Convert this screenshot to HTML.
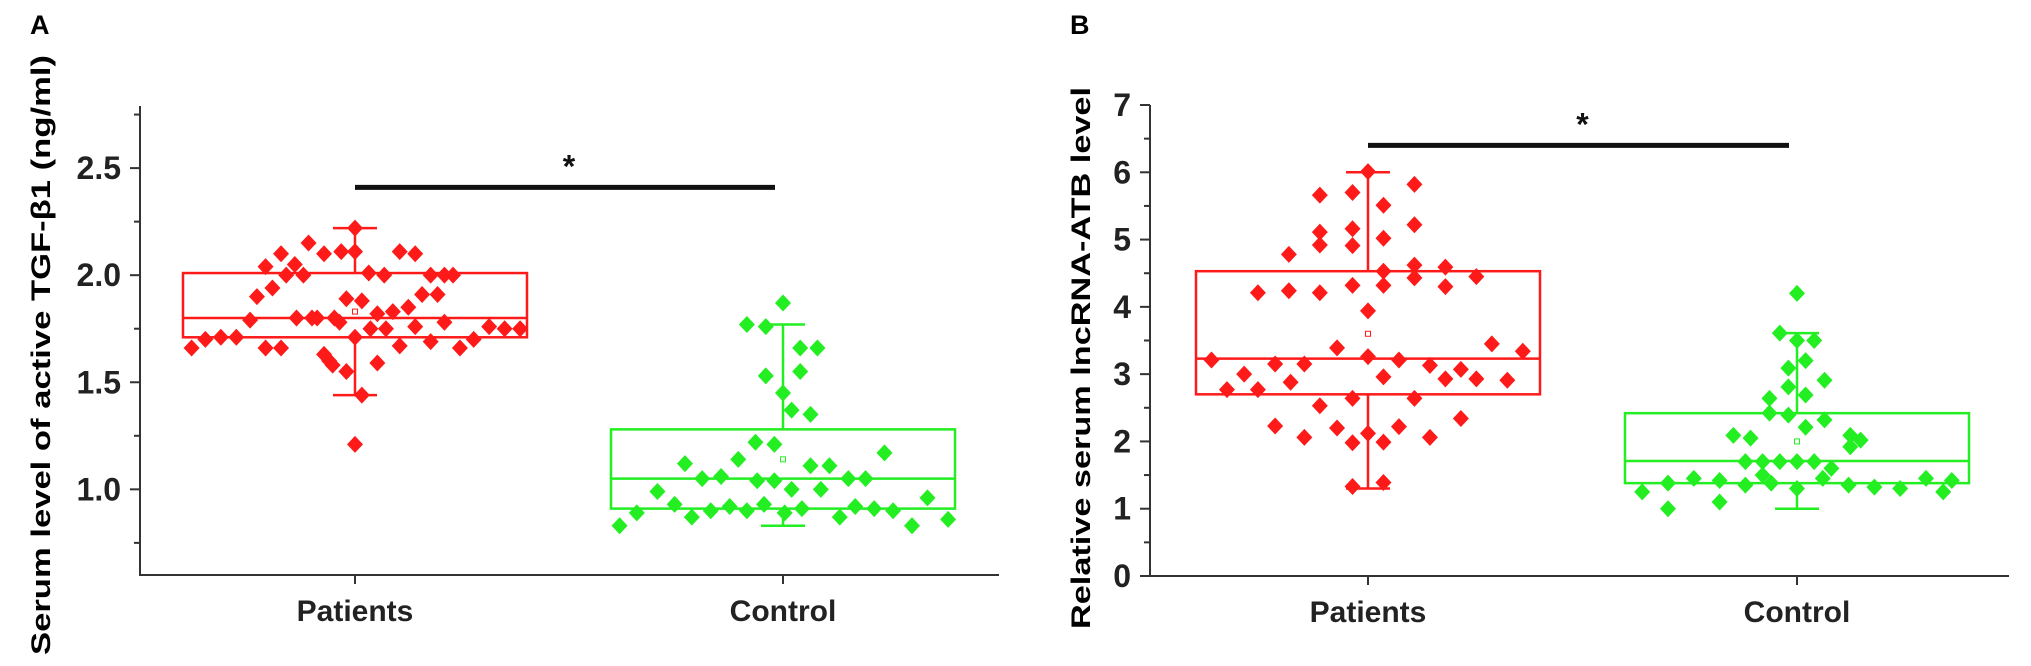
<!DOCTYPE html>
<html><head><meta charset="utf-8"><style>
html,body{margin:0;padding:0;background:#fff;}
svg{display:block;font-family:"Liberation Sans",sans-serif;}
</style></head><body>
<svg id="chart" width="2031" height="666" viewBox="0 0 2031 666" xmlns="http://www.w3.org/2000/svg">
<text x="30" y="34" font-size="27" font-weight="bold">A</text>
<text x="1070" y="34" font-size="27" font-weight="bold">B</text>
<text transform="translate(50,355) rotate(-90)" text-anchor="middle" font-size="27" font-weight="bold" textLength="600" lengthAdjust="spacingAndGlyphs">Serum level of active TGF-β1 (ng/ml)</text>
<text transform="translate(1090,358) rotate(-90)" text-anchor="middle" font-size="27" font-weight="bold" textLength="542" lengthAdjust="spacingAndGlyphs">Relative serum lncRNA-ATB level</text>
<g id="pa"></g>
<g id="pb"></g>
</svg>
<script>
const categories = ["Patients", "Control"];
// Panel A axis
const aTicks = [1.0, 1.5, 2.0, 2.5];
const aTickLabels = ["1.0", "1.5", "2.0", "2.5"];
const aMinor = [0.75, 1.25, 1.75, 2.25, 2.75];
// Panel A box stats [whiskerLow, q1, median, q3, whiskerHigh, mean]
const aPatStats = [1.44, 1.71, 1.80, 2.01, 2.22, 1.83];
const aConStats = [0.83, 0.91, 1.05, 1.28, 1.77, 1.14];
const aPatValues = [1.66,1.70,1.71,1.71,1.79,1.90,2.04,1.94,2.10,1.66,1.66,2.0,2.05,1.80,2.0,2.15,1.80,1.80,2.10,1.63,1.60,1.58,1.80,1.78,2.11,1.55,1.89,2.22,2.11,1.71,1.21,1.44,1.88,2.01,1.75,1.82,1.59,2.0,1.75,1.83,1.67,2.11,1.85,2.10,1.76,1.91,2.0,1.69,1.91,2.0,1.78,2.0,1.66,1.70,1.76,1.75,1.75];
const aPatJitter = [-0.95,-0.87,-0.78,-0.69,-0.61,-0.57,-0.52,-0.48,-0.43,-0.52,-0.43,-0.40,-0.35,-0.34,-0.30,-0.27,-0.25,-0.22,-0.18,-0.18,-0.15,-0.13,-0.12,-0.09,-0.08,-0.05,-0.05,0,0,0,0,0.04,0.04,0.08,0.09,0.13,0.13,0.17,0.18,0.22,0.26,0.26,0.31,0.35,0.35,0.39,0.44,0.44,0.48,0.52,0.52,0.57,0.61,0.69,0.78,0.87,0.96];
const aConValues = [0.83,0.89,0.99,0.93,1.12,0.87,1.05,0.90,1.06,0.92,1.14,0.90,1.77,1.22,1.04,0.93,1.76,1.53,1.21,1.04,1.87,1.45,0.89,1.37,1.0,1.55,1.66,0.91,1.35,1.11,1.66,1.0,1.11,0.87,1.05,0.92,1.05,0.91,1.17,0.90,0.83,0.96,0.86];
const aConJitter = [-0.95,-0.85,-0.73,-0.63,-0.57,-0.53,-0.47,-0.42,-0.36,-0.31,-0.26,-0.21,-0.21,-0.16,-0.15,-0.11,-0.10,-0.10,-0.05,-0.05,0,0,0.01,0.05,0.05,0.10,0.10,0.11,0.16,0.16,0.20,0.22,0.27,0.33,0.38,0.42,0.48,0.53,0.59,0.64,0.75,0.84,0.96];
// Panel B axis
const bTicks = [0,1,2,3,4,5,6,7];
const bTickLabels = ["0","1","2","3","4","5","6","7"];
const bMinor = [0.5,1.5,2.5,3.5,4.5,5.5,6.5];
const bPatStats = [1.30, 2.70, 3.23, 4.53, 6.00, 3.60];
const bConStats = [1.00, 1.38, 1.71, 2.42, 3.61, 2.00];
const bPatValues = [3.21,2.77,3.0,2.77,4.21,3.15,2.23,4.78,4.24,2.88,3.15,2.06,5.66,5.11,4.92,4.21,2.53,3.39,2.20,5.70,5.16,4.91,4.32,2.64,1.98,1.33,6.01,3.94,3.26,2.12,5.51,5.02,4.53,4.32,2.96,1.99,1.39,3.21,2.22,5.82,5.22,4.62,4.43,2.64,3.13,2.06,4.59,4.30,2.93,3.07,2.34,4.45,2.93,3.45,2.91,3.34];
const bPatJitter = [-0.91,-0.82,-0.72,-0.64,-0.64,-0.54,-0.54,-0.46,-0.46,-0.45,-0.37,-0.37,-0.28,-0.28,-0.28,-0.28,-0.28,-0.18,-0.18,-0.09,-0.09,-0.09,-0.09,-0.09,-0.09,-0.09,0,0,0,0,0.09,0.09,0.09,0.09,0.09,0.09,0.09,0.18,0.18,0.27,0.27,0.27,0.27,0.27,0.36,0.36,0.45,0.45,0.45,0.54,0.54,0.63,0.63,0.72,0.81,0.90];
const bConValues = [4.2,3.61,3.5,3.5,3.09,3.2,2.91,2.81,2.69,2.64,2.42,2.39,2.32,2.21,2.09,2.05,2.09,2.02,1.92,1.25,1.38,1.45,1.42,1.35,1.38,1.3,1.45,1.35,1.32,1.3,1.45,1.42,1.0,1.1,1.5,1.7,1.7,1.7,1.7,1.7,1.6,1.25];
const bConJitter = [0,-0.1,0,0.1,-0.05,0.05,0.16,-0.05,0.05,-0.16,-0.16,-0.05,0.16,0.05,-0.37,-0.27,0.31,0.37,0.31,-0.9,-0.75,-0.6,-0.45,-0.3,-0.15,0,0.15,0.3,0.45,0.6,0.75,0.9,-0.75,-0.45,-0.2,-0.3,-0.2,-0.1,0,0.1,0.2,0.85];

const NS = "http://www.w3.org/2000/svg";
function mk(parent, tag, attrs) {
  const e = document.createElementNS(NS, tag);
  for (const k in attrs) e.setAttribute(k, attrs[k]);
  parent.appendChild(e);
  return e;
}
function drawPanel(g, p) {
  const y = v => p.y0 + (v - p.vmin) / (p.vmax - p.vmin) * (p.y1 - p.y0);
  const xc = i => p.x0 + p.catOff[i];
  let e;
  e = mk(g, "line", {x1: p.x0, y1: p.y1, x2: p.x0, y2: p.y0 + 1, stroke: "#333", "stroke-width": 2});
  
  
  e = mk(g, "line", {x1: p.x0 - 1, y1: p.y0, x2: p.xEnd, y2: p.y0, stroke: "#333", "stroke-width": 2});
  
  
  p.ticks.forEach((v, i) => {
    e = mk(g, "line", {x1: p.x0 - 10, y1: y(v), x2: p.x0, y2: y(v), stroke: "#333", "stroke-width": 2});
    
    
    e = mk(g, "text", {x: p.x0 - 19, y: y(v) + 11, "text-anchor": "end", "font-size": 32, "font-weight": "bold", fill: "#222"});
    e.textContent = p.tickLabels[i];
    
    
  });
  p.minor.forEach(v => {
    e = mk(g, "line", {x1: p.x0 - 6, y1: y(v), x2: p.x0, y2: y(v), stroke: "#333", "stroke-width": 2});
    
    
  });
  categories.forEach((c, i) => {
    e = mk(g, "line", {x1: xc(i), y1: p.y0, x2: xc(i), y2: p.y0 + 9, stroke: "#333", "stroke-width": 2});
    
    
    e = mk(g, "text", {x: xc(i), y: p.y0 + 46, "text-anchor": "middle", "font-size": 30, "font-weight": "bold", fill: "#222"});
    e.textContent = c;
    
    
  });
  const hw = 172;
  [[p.patStats, p.patVals, p.patJit, "#ff1a1a"], [p.conStats, p.conVals, p.conJit, "#22ee22"]].forEach((s, i) => {
    const st = s[0], col = s[3], cx = xc(i);
    const grp = mk(g, "g", {});
    
    
    mk(grp, "rect", {x: cx - hw, y: y(st[3]), width: 2 * hw, height: y(st[1]) - y(st[3]), fill: "none", stroke: col, "stroke-width": 2.5});
    mk(grp, "line", {x1: cx - hw, y1: y(st[2]), x2: cx + hw, y2: y(st[2]), stroke: col, "stroke-width": 2.5});
    mk(grp, "line", {x1: cx, y1: y(st[3]), x2: cx, y2: y(st[4]), stroke: col, "stroke-width": 2.5});
    mk(grp, "line", {x1: cx, y1: y(st[1]), x2: cx, y2: y(st[0]), stroke: col, "stroke-width": 2.5});
    mk(grp, "line", {x1: cx - 22, y1: y(st[4]), x2: cx + 22, y2: y(st[4]), stroke: col, "stroke-width": 2.5});
    mk(grp, "line", {x1: cx - 22, y1: y(st[0]), x2: cx + 22, y2: y(st[0]), stroke: col, "stroke-width": 2.5});
    mk(grp, "rect", {x: cx - 2.5, y: y(st[5]) - 2.5, width: 5, height: 5, fill: "none", stroke: col, "stroke-width": 1});
    s[1].forEach((v, k) => {
      const px = cx + s[2][k] * hw, py = y(v);
      e = mk(g, "polygon", {points: `${px},${py-8.5} ${px+8},${py} ${px},${py+8.5} ${px-8},${py}`, fill: col});
      
      
    });
  });
  e = mk(g, "line", {x1: xc(0), y1: y(p.sig), x2: xc(1) - 8, y2: y(p.sig), stroke: "#111", "stroke-width": 5});
  
  
  e = mk(g, "text", {x: (xc(0) + xc(1)) / 2, y: y(p.sig) - 10, "text-anchor": "middle", "font-size": 32, "font-weight": "bold", fill: "#111"});
  e.textContent = "*";
  
  
}
drawPanel(document.getElementById("pa"), {x0: 140, xEnd: 999, y0: 575, y1: 106, vmin: 0.6, vmax: 2.79, catOff: [215, 643],
  ticks: aTicks, tickLabels: aTickLabels, minor: aMinor, sig: 2.41,
  patStats: aPatStats, conStats: aConStats, patVals: aPatValues, patJit: aPatJitter, conVals: aConValues, conJit: aConJitter});
drawPanel(document.getElementById("pb"), {x0: 1150, xEnd: 2009, y0: 576, y1: 105, vmin: 0, vmax: 7, catOff: [218, 647],
  ticks: bTicks, tickLabels: bTickLabels, minor: bMinor, sig: 6.4,
  patStats: bPatStats, conStats: bConStats, patVals: bPatValues, patJit: bPatJitter, conVals: bConValues, conJit: bConJitter});
</script>
</body></html>
